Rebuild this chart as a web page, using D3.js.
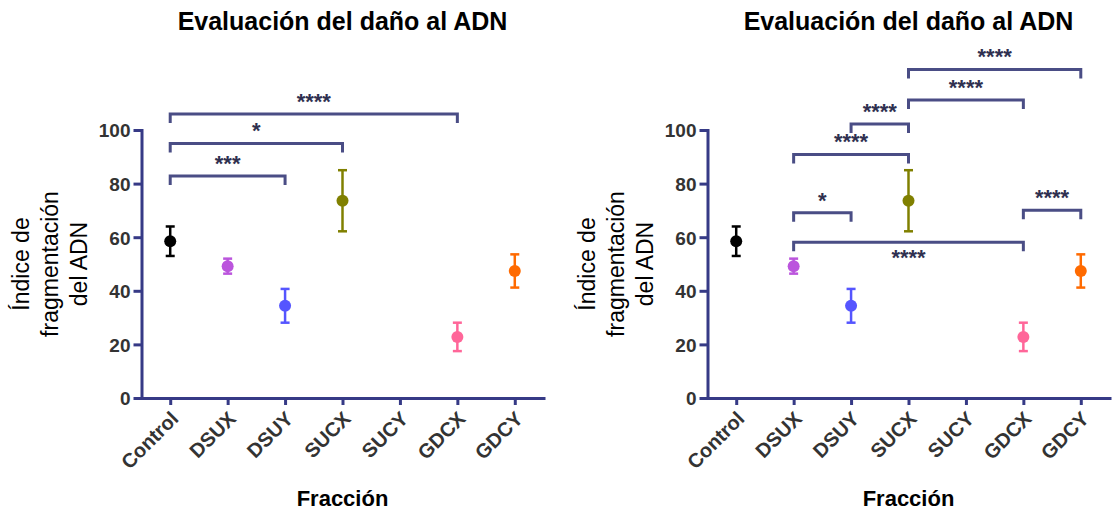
<!DOCTYPE html>
<html>
<head>
<meta charset="utf-8">
<script src="https://d3js.org/d3.v7.min.js"></script>
<style>
  body { margin: 0; background: #fff; }
  svg { display: block; font-family: "Liberation Sans", Arial, sans-serif; }
</style>
</head>
<body>
<svg width="1115" height="510"></svg>
<script>
  // data
  var categories = ["Control", "DSUX", "DSUY", "SUCX", "SUCY", "GDCX", "GDCY"];
  var means = [58.5, 49.2, 34.4, 73.6, null, 22.8, 47.4];
  var errors = [5.5, 2.8, 6.3, 11.4, null, 5.3, 6.2];
  var yTicks = [0, 20, 40, 60, 80, 100];
  var pointColors = ["#000000", "#bb55dd", "#5555ff", "#808000", "#888888", "#ff6699", "#ff6a00"];

  // significance brackets: [from, to, height (y units), label]
  var leftBrackets = [
    ["Control", "DSUY", 82.8, "***"],
    ["Control", "SUCX", 95, "*"],
    ["Control", "GDCX", 106, "****"]
  ];
  var rightBrackets = [
    ["SUCX", "GDCY", 122.6, "****"],
    ["SUCX", "GDCX", 111.2, "****"],
    ["DSUY", "SUCX", 102.2, "****"],
    ["DSUX", "SUCX", 90.9, "****"],
    ["DSUX", "DSUY", 69.1, "*"],
    ["GDCX", "GDCY", 70.1, "****"],
    ["DSUX", "GDCX", 58.1, "****", "below"]
  ];

  var titleText = "Evaluación del daño al ADN";
  var yTitle = ["Índice de", "fragmentación", "del ADN"];
  var xTitle = "Fracción";

  var axisColor = "#363a86";
  var bracketColor = "#4a4d85";
  var textColor = "#333333";

  var svg = d3.select("svg");

  function drawPanel(left, brackets) {
    var plotW = 402, top = 130, bottom = 398;
    var g = svg.append("g");

    var x = d3.scalePoint().domain(categories).range([left, left + plotW]).padding(0.5);
    var y = d3.scaleLinear().domain([0, 100]).range([bottom, top]);

    // y axis
    var ya = g.append("g")
      .attr("transform", "translate(" + left + ",0)")
      .call(d3.axisLeft(y).tickValues(yTicks).tickSize(8).tickSizeOuter(0).tickPadding(3));
    // x axis
    var xa = g.append("g")
      .attr("transform", "translate(0," + bottom + ")")
      .call(d3.axisBottom(x).tickSize(7).tickSizeOuter(0));

    [ya, xa].forEach(function (a) {
      a.select(".domain").attr("stroke", axisColor).attr("stroke-width", 3).attr("stroke-linecap", "square");
      a.selectAll(".tick line").attr("stroke", axisColor).attr("stroke-width", 3);
      a.selectAll("text").attr("fill", textColor).style("font-weight", "bold")
        .style("font-family", "'Liberation Sans', Arial, sans-serif");
    });
    ya.selectAll("text").attr("dy", "0.36em").style("font-size", "19px");
    xa.selectAll(".tick text")
      .style("font-size", "20px")
      .attr("y", 0).attr("x", 0).attr("dy", "0.35em")
      .attr("text-anchor", "end")
      .attr("transform", "translate(4,17) rotate(-45)");

    // error bars and points
    var rows = categories.map(function (c, i) {
      return { cat: c, mean: means[i], err: errors[i], color: pointColors[i] };
    }).filter(function (d) { return d.mean !== null; });

    var pts = g.selectAll("g.pt").data(rows).enter().append("g").attr("class", "pt");
    pts.append("line")
      .attr("x1", function (d) { return x(d.cat); })
      .attr("x2", function (d) { return x(d.cat); })
      .attr("y1", function (d) { return y(d.mean - d.err); })
      .attr("y2", function (d) { return y(d.mean + d.err); })
      .attr("stroke", function (d) { return d.color; }).attr("stroke-width", 2.5);
    [-1, 1].forEach(function (s) {
      pts.append("line")
        .attr("x1", function (d) { return x(d.cat) - 4.5; })
        .attr("x2", function (d) { return x(d.cat) + 4.5; })
        .attr("y1", function (d) { return y(d.mean + s * d.err); })
        .attr("y2", function (d) { return y(d.mean + s * d.err); })
        .attr("stroke", function (d) { return d.color; }).attr("stroke-width", 2.5);
    });
    pts.append("circle")
      .attr("cx", function (d) { return x(d.cat); })
      .attr("cy", function (d) { return y(d.mean); })
      .attr("r", 6)
      .attr("fill", function (d) { return d.color; });

    // brackets
    var br = g.selectAll("g.br").data(brackets).enter().append("g").attr("class", "br");
    br.append("path")
      .attr("d", function (d) {
        var x1 = x(d[0]), x2 = x(d[1]), yy = y(d[2]);
        return "M" + x1 + "," + (yy + 9) + "V" + yy + "H" + x2 + "V" + (yy + 9);
      })
      .attr("fill", "none").attr("stroke", bracketColor).attr("stroke-width", 3);
    br.append("text")
      .attr("x", function (d) { return (x(d[0]) + x(d[1])) / 2; })
      .attr("y", function (d) { return y(d[2]) + (d[4] === "below" ? 23 : -5); })
      .attr("text-anchor", "middle")
      .attr("fill", "#2f3050")
      .style("font-size", "22px").style("font-weight", "bold")
      .text(function (d) { return d[3]; });

    // titles
    var cx = left + plotW / 2;
    g.append("text").attr("x", cx).attr("y", 30).attr("text-anchor", "middle")
      .style("font-size", "25px").style("font-weight", "bold").attr("fill", "#000")
      .text(titleText);
    g.append("text").attr("x", cx).attr("y", 506).attr("text-anchor", "middle")
      .style("font-size", "22px").style("font-weight", "bold").attr("fill", "#000")
      .text(xTitle);
    var yt = g.append("text")
      .attr("transform", "translate(" + (left - 92) + "," + ((top + bottom) / 2) + ") rotate(-90)")
      .attr("text-anchor", "middle").style("font-size", "23px").attr("fill", "#000");
    yTitle.forEach(function (t, i) {
      yt.append("tspan").attr("x", 0).attr("y", (i - 1) * 29).attr("dy", "0.35em").text(t);
    });
  }

  drawPanel(141.5, leftBrackets);
  drawPanel(707.5, rightBrackets);
</script>
</body>
</html>
